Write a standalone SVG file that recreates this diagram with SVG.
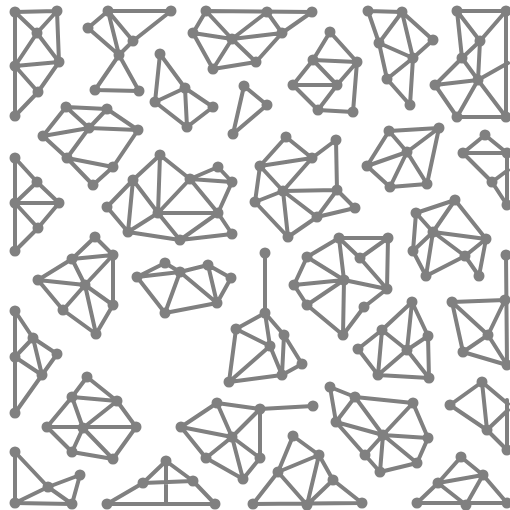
<svg xmlns="http://www.w3.org/2000/svg" width="510" height="510" viewBox="0 0 510 510">
<style>
.e{fill:none;stroke:#808080;stroke-width:4;stroke-linecap:round;stroke-linejoin:round}
circle{fill:#808080}
</style>
<rect width="510" height="510" fill="#fff"/>
<g id="connectors" class="e">
<path d="M15 12L57 11 M15 12L15 116 M15 12L37 33 M57 11L37 33 M57 11L59 62 M37 33L15 66 M37 33L59 62 M15 66L59 62 M15 66L38 92 M59 62L38 92 M38 92L15 116"/>
<path d="M108 11L171 11 M108 11L88 28 M108 11L133 41 M108 11L119 55 M88 28L119 55 M171 11L133 41 M133 41L119 55 M119 55L95 90 M119 55L139 91 M95 90L139 91"/>
<path d="M160 54L155 102 M160 54L185 88 M155 102L185 88 M155 102L187 127 M185 88L213 107 M185 88L187 127 M213 107L187 127"/>
<path d="M244 86L267 105L233 134Z"/>
<path d="M206 11L312 12 M206 11L193 33 M206 11L232 39 M267 12L232 39 M267 12L282 33 M312 12L282 33 M193 33L232 39 M232 39L282 33 M193 33L213 69 M232 39L213 69 M232 39L256 62 M213 69L256 62 M282 33L256 62"/>
<path d="M330 32L313 60 M330 32L357 62 M313 60L357 62 M313 60L293 85 M313 60L337 85 M293 85L337 85 M293 85L318 110 M318 110L337 85 M318 110L353 112 M357 62L353 112 M337 85L357 62"/>
<path d="M368 11L402 12 M368 11L379 43 M402 12L379 43 M402 12L433 40 M402 12L413 58 M379 43L413 58 M433 40L413 58 M379 43L387 79 M413 58L387 79 M413 58L410 105 M387 79L410 105"/>
<path d="M457 11L506 11 M457 11L480 41 M457 11L462 58 M480 41L506 11 M480 41L462 58 M480 41L478 80 M462 58L435 85 M462 58L478 80 M435 85L478 80 M435 85L457 117 M478 80L457 117 M478 80L506 117 M478 80L508 63 M457 117L506 117 M506 11L506 117"/>
<path d="M66 107L107 109 M66 107L43 136 M66 107L89 128 M107 109L89 128 M107 109L138 130 M43 136L89 128 M89 128L138 130 M89 128L67 158 M43 136L67 158 M67 158L113 167 M138 130L113 167 M67 158L93 185 M113 167L93 185"/>
<path d="M15 158L37 182 M15 158L15 251 M37 182L15 203 M37 182L59 203 M15 203L59 203 M15 203L38 228 M59 203L38 228 M38 228L15 251"/>
<path d="M160 155L133 180 M160 155L158 213 M160 155L190 179 M218 167L190 179 M218 167L232 182 M190 179L232 182 M190 179L158 213 M190 179L218 213 M133 180L107 207 M133 180L128 232 M133 180L158 213 M107 207L128 232 M158 213L218 213 M158 213L128 232 M158 213L180 240 M218 213L232 182 M218 213L180 240 M218 213L232 234 M128 232L180 240 M180 240L232 234"/>
<path d="M286 137L312 158 M286 137L260 166 M260 166L312 158 M312 158L336 140 M336 140L337 190 M260 166L255 202 M260 166L283 191 M312 158L283 191 M255 202L283 191 M255 202L288 237 M283 191L337 190 M283 191L288 237 M283 191L317 217 M288 237L317 217 M317 217L355 208 M317 217L337 190 M337 190L355 208"/>
<path d="M389 131L439 128 M389 131L407 152 M389 131L367 166 M367 166L407 152 M439 128L407 152 M439 128L427 184 M407 152L390 187 M407 152L427 184 M367 166L390 187 M390 187L427 184"/>
<path d="M463 153L485 135 M485 135L507 153 M463 153L507 153 M463 153L492 182 M492 182L508 170 M492 182L507 205 M507 153L507 205"/>
<path d="M416 213L455 200 M416 213L433 232 M416 213L413 251 M455 200L433 232 M455 200L486 239 M433 232L486 239 M433 232L413 251 M433 232L426 276 M433 232L465 256 M413 251L426 276 M426 276L465 256 M486 239L465 256 M465 256L479 276 M486 239L479 276"/>
<path d="M95 237L72 259 M95 237L113 255 M72 259L113 255 M72 259L38 280 M72 259L85 285 M113 255L85 285 M113 255L113 305 M38 280L85 285 M38 280L63 310 M85 285L63 310 M85 285L113 305 M85 285L96 334 M63 310L96 334 M113 305L96 334"/>
<path d="M137 277L165 263 M137 277L180 272 M137 277L165 313 M165 263L180 272 M180 272L208 265 M180 272L217 303 M208 265L231 278 M208 265L217 303 M231 278L217 303 M165 313L217 303 M165 313L180 272"/>
<path d="M265 253L265 313 M265 313L236 329 M265 313L284 335 M265 313L270 346 M236 329L270 346 M236 329L229 382 M284 335L282 375 M284 335L302 364 M270 346L282 375 M270 346L229 382 M229 382L282 375 M282 375L302 364"/>
<path d="M339 238L388 238 M339 238L307 257 M339 238L360 258 M339 238L344 280 M388 238L360 258 M388 238L387 289 M307 257L294 285 M307 257L344 280 M360 258L387 289 M294 285L344 280 M294 285L307 305 M344 280L387 289 M344 280L307 305 M344 280L343 335 M387 289L364 307 M307 305L343 335 M364 307L343 335"/>
<path d="M15 311L33 338 M15 311L15 413 M33 338L57 354 M33 338L42 375 M15 357L33 338 M15 357L42 375 M57 354L42 375 M42 375L15 413"/>
<path d="M87 377L72 397 M87 377L117 401 M72 397L117 401 M72 397L47 427 M72 397L83 428 M117 401L83 428 M117 401L136 427 M47 427L136 427 M47 427L72 452 M83 428L72 452 M83 428L113 459 M136 427L113 459 M72 452L113 459"/>
<path d="M15 452L48 487 M15 452L15 503 M48 487L80 475 M80 475L72 504 M48 487L72 504 M48 487L15 503 M15 503L72 504"/>
<path d="M107 504L215 504 M107 504L143 483 M143 483L166 461 M166 461L193 481 M143 483L193 481 M193 481L215 504 M166 461L166 504"/>
<path d="M217 403L260 409 M260 409L313 406 M217 403L181 427 M181 427L232 437 M217 403L232 437 M232 437L260 409 M260 409L260 458 M232 437L206 458 M232 437L243 479 M232 437L260 458 M181 427L206 458 M206 458L243 479 M243 479L260 458"/>
<path d="M293 436L319 455 M293 436L278 472 M319 455L278 472 M319 455L307 505 M319 455L333 480 M278 472L253 504 M278 472L307 505 M333 480L307 505 M333 480L362 503 M253 504L362 503"/>
<path d="M330 387L355 397 M330 387L336 422 M355 397L413 403 M355 397L336 422 M355 397L383 435 M413 403L383 435 M413 403L428 438 M336 422L383 435 M336 422L365 455 M383 435L428 438 M383 435L365 455 M383 435L380 472 M383 435L417 463 M428 438L417 463 M365 455L380 472 M380 472L417 463"/>
<path d="M482 382L450 405 M482 382L487 430 M450 405L487 430 M482 382L508 404 M487 430L508 410 M487 430L507 450 M507 400L507 452"/>
<path d="M461 457L483 475 M461 457L438 483 M438 483L483 475 M438 483L417 503 M438 483L466 505 M483 475L466 505 M483 475L507 503 M417 503L507 503"/>
<path d="M412 302L382 330 M412 302L428 336 M412 302L407 350 M382 330L358 349 M382 330L407 350 M382 330L378 375 M428 336L407 350 M428 336L429 378 M358 349L378 375 M407 350L378 375 M407 350L429 378 M378 375L429 378"/>
<path d="M506 255L507 365 M452 302L505 300 M452 302L488 335 M452 302L463 352 M505 300L488 335 M488 335L463 352 M488 335L507 365 M463 352L507 365"/>
</g>
<g id="nodes">
<g id="A"><circle cx="15" cy="12" r="5.5"/><circle cx="57" cy="11" r="5.5"/><circle cx="37" cy="33" r="5.5"/><circle cx="15" cy="66" r="5.5"/><circle cx="59" cy="62" r="5.5"/><circle cx="38" cy="92" r="5.5"/><circle cx="15" cy="116" r="5.5"/></g>
<g id="B"><circle cx="108" cy="11" r="5.5"/><circle cx="171" cy="11" r="5.5"/><circle cx="88" cy="28" r="5.5"/><circle cx="133" cy="41" r="5.5"/><circle cx="119" cy="55" r="5.5"/><circle cx="95" cy="90" r="5.5"/><circle cx="139" cy="91" r="5.5"/></g>
<g id="C"><circle cx="160" cy="54" r="5.5"/><circle cx="155" cy="102" r="5.5"/><circle cx="185" cy="88" r="5.5"/><circle cx="213" cy="107" r="5.5"/><circle cx="187" cy="127" r="5.5"/></g>
<g id="D"><circle cx="244" cy="86" r="5.5"/><circle cx="267" cy="105" r="5.5"/><circle cx="233" cy="134" r="5.5"/></g>
<g id="E"><circle cx="206" cy="11" r="5.5"/><circle cx="267" cy="12" r="5.5"/><circle cx="312" cy="12" r="5.5"/><circle cx="193" cy="33" r="5.5"/><circle cx="232" cy="39" r="5.5"/><circle cx="282" cy="33" r="5.5"/><circle cx="213" cy="69" r="5.5"/><circle cx="256" cy="62" r="5.5"/></g>
<g id="F"><circle cx="330" cy="32" r="5.5"/><circle cx="313" cy="60" r="5.5"/><circle cx="357" cy="62" r="5.5"/><circle cx="293" cy="85" r="5.5"/><circle cx="337" cy="85" r="5.5"/><circle cx="318" cy="110" r="5.5"/><circle cx="353" cy="112" r="5.5"/></g>
<g id="G"><circle cx="368" cy="11" r="5.5"/><circle cx="402" cy="12" r="5.5"/><circle cx="379" cy="43" r="5.5"/><circle cx="433" cy="40" r="5.5"/><circle cx="413" cy="58" r="5.5"/><circle cx="387" cy="79" r="5.5"/><circle cx="410" cy="105" r="5.5"/></g>
<g id="H"><circle cx="457" cy="11" r="5.5"/><circle cx="506" cy="11" r="5.5"/><circle cx="480" cy="41" r="5.5"/><circle cx="462" cy="58" r="5.5"/><circle cx="478" cy="80" r="5.5"/><circle cx="435" cy="85" r="5.5"/><circle cx="457" cy="117" r="5.5"/><circle cx="506" cy="117" r="5.5"/></g>
<g id="I"><circle cx="66" cy="107" r="5.5"/><circle cx="107" cy="109" r="5.5"/><circle cx="89" cy="128" r="5.5"/><circle cx="138" cy="130" r="5.5"/><circle cx="43" cy="136" r="5.5"/><circle cx="67" cy="158" r="5.5"/><circle cx="113" cy="167" r="5.5"/><circle cx="93" cy="185" r="5.5"/></g>
<g id="J"><circle cx="15" cy="158" r="5.5"/><circle cx="37" cy="182" r="5.5"/><circle cx="15" cy="203" r="5.5"/><circle cx="59" cy="203" r="5.5"/><circle cx="38" cy="228" r="5.5"/><circle cx="15" cy="251" r="5.5"/></g>
<g id="K"><circle cx="160" cy="155" r="5.5"/><circle cx="218" cy="167" r="5.5"/><circle cx="133" cy="180" r="5.5"/><circle cx="190" cy="179" r="5.5"/><circle cx="232" cy="182" r="5.5"/><circle cx="107" cy="207" r="5.5"/><circle cx="158" cy="213" r="5.5"/><circle cx="218" cy="213" r="5.5"/><circle cx="128" cy="232" r="5.5"/><circle cx="180" cy="240" r="5.5"/><circle cx="232" cy="234" r="5.5"/></g>
<g id="L"><circle cx="286" cy="137" r="5.5"/><circle cx="336" cy="140" r="5.5"/><circle cx="312" cy="158" r="5.5"/><circle cx="260" cy="166" r="5.5"/><circle cx="255" cy="202" r="5.5"/><circle cx="283" cy="191" r="5.5"/><circle cx="337" cy="190" r="5.5"/><circle cx="355" cy="208" r="5.5"/><circle cx="317" cy="217" r="5.5"/><circle cx="288" cy="237" r="5.5"/></g>
<g id="M"><circle cx="389" cy="131" r="5.5"/><circle cx="439" cy="128" r="5.5"/><circle cx="407" cy="152" r="5.5"/><circle cx="367" cy="166" r="5.5"/><circle cx="390" cy="187" r="5.5"/><circle cx="427" cy="184" r="5.5"/></g>
<g id="N"><circle cx="485" cy="135" r="5.5"/><circle cx="463" cy="153" r="5.5"/><circle cx="507" cy="153" r="5.5"/><circle cx="492" cy="182" r="5.5"/><circle cx="507" cy="205" r="5.5"/></g>
<g id="O"><circle cx="455" cy="200" r="5.5"/><circle cx="416" cy="213" r="5.5"/><circle cx="433" cy="232" r="5.5"/><circle cx="486" cy="239" r="5.5"/><circle cx="413" cy="251" r="5.5"/><circle cx="465" cy="256" r="5.5"/><circle cx="426" cy="276" r="5.5"/><circle cx="479" cy="276" r="5.5"/></g>
<g id="P"><circle cx="95" cy="237" r="5.5"/><circle cx="113" cy="255" r="5.5"/><circle cx="72" cy="259" r="5.5"/><circle cx="38" cy="280" r="5.5"/><circle cx="85" cy="285" r="5.5"/><circle cx="63" cy="310" r="5.5"/><circle cx="113" cy="305" r="5.5"/><circle cx="96" cy="334" r="5.5"/></g>
<g id="Q"><circle cx="137" cy="277" r="5.5"/><circle cx="165" cy="263" r="5.5"/><circle cx="180" cy="272" r="5.5"/><circle cx="208" cy="265" r="5.5"/><circle cx="231" cy="278" r="5.5"/><circle cx="165" cy="313" r="5.5"/><circle cx="217" cy="303" r="5.5"/></g>
<g id="R"><circle cx="265" cy="253" r="5.5"/><circle cx="265" cy="313" r="5.5"/><circle cx="236" cy="329" r="5.5"/><circle cx="284" cy="335" r="5.5"/><circle cx="270" cy="346" r="5.5"/><circle cx="302" cy="364" r="5.5"/><circle cx="282" cy="375" r="5.5"/><circle cx="229" cy="382" r="5.5"/></g>
<g id="S"><circle cx="339" cy="238" r="5.5"/><circle cx="388" cy="238" r="5.5"/><circle cx="307" cy="257" r="5.5"/><circle cx="360" cy="258" r="5.5"/><circle cx="294" cy="285" r="5.5"/><circle cx="344" cy="280" r="5.5"/><circle cx="387" cy="289" r="5.5"/><circle cx="307" cy="305" r="5.5"/><circle cx="364" cy="307" r="5.5"/><circle cx="343" cy="335" r="5.5"/></g>
<g id="T"><circle cx="15" cy="311" r="5.5"/><circle cx="33" cy="338" r="5.5"/><circle cx="57" cy="354" r="5.5"/><circle cx="15" cy="357" r="5.5"/><circle cx="42" cy="375" r="5.5"/><circle cx="15" cy="413" r="5.5"/></g>
<g id="U"><circle cx="87" cy="377" r="5.5"/><circle cx="72" cy="397" r="5.5"/><circle cx="117" cy="401" r="5.5"/><circle cx="47" cy="427" r="5.5"/><circle cx="83" cy="428" r="5.5"/><circle cx="136" cy="427" r="5.5"/><circle cx="72" cy="452" r="5.5"/><circle cx="113" cy="459" r="5.5"/></g>
<g id="V"><circle cx="15" cy="452" r="5.5"/><circle cx="80" cy="475" r="5.5"/><circle cx="48" cy="487" r="5.5"/><circle cx="15" cy="503" r="5.5"/><circle cx="72" cy="504" r="5.5"/></g>
<g id="W"><circle cx="107" cy="504" r="5.5"/><circle cx="143" cy="483" r="5.5"/><circle cx="166" cy="461" r="5.5"/><circle cx="193" cy="481" r="5.5"/><circle cx="215" cy="504" r="5.5"/></g>
<g id="X"><circle cx="217" cy="403" r="5.5"/><circle cx="260" cy="409" r="5.5"/><circle cx="313" cy="406" r="5.5"/><circle cx="181" cy="427" r="5.5"/><circle cx="232" cy="437" r="5.5"/><circle cx="206" cy="458" r="5.5"/><circle cx="260" cy="458" r="5.5"/><circle cx="243" cy="479" r="5.5"/></g>
<g id="Y"><circle cx="293" cy="436" r="5.5"/><circle cx="319" cy="455" r="5.5"/><circle cx="278" cy="472" r="5.5"/><circle cx="333" cy="480" r="5.5"/><circle cx="253" cy="504" r="5.5"/><circle cx="307" cy="505" r="5.5"/><circle cx="362" cy="503" r="5.5"/></g>
<g id="Z"><circle cx="330" cy="387" r="5.5"/><circle cx="355" cy="397" r="5.5"/><circle cx="413" cy="403" r="5.5"/><circle cx="336" cy="422" r="5.5"/><circle cx="383" cy="435" r="5.5"/><circle cx="428" cy="438" r="5.5"/><circle cx="365" cy="455" r="5.5"/><circle cx="380" cy="472" r="5.5"/><circle cx="417" cy="463" r="5.5"/></g>
<g id="AA"><circle cx="482" cy="382" r="5.5"/><circle cx="450" cy="405" r="5.5"/><circle cx="487" cy="430" r="5.5"/><circle cx="507" cy="450" r="5.5"/></g>
<g id="AB"><circle cx="461" cy="457" r="5.5"/><circle cx="483" cy="475" r="5.5"/><circle cx="438" cy="483" r="5.5"/><circle cx="417" cy="503" r="5.5"/><circle cx="466" cy="505" r="5.5"/><circle cx="507" cy="503" r="5.5"/></g>
<g id="AC"><circle cx="412" cy="302" r="5.5"/><circle cx="382" cy="330" r="5.5"/><circle cx="428" cy="336" r="5.5"/><circle cx="358" cy="349" r="5.5"/><circle cx="407" cy="350" r="5.5"/><circle cx="378" cy="375" r="5.5"/><circle cx="429" cy="378" r="5.5"/></g>
<g id="AD"><circle cx="506" cy="255" r="5.5"/><circle cx="452" cy="302" r="5.5"/><circle cx="505" cy="300" r="5.5"/><circle cx="488" cy="335" r="5.5"/><circle cx="463" cy="352" r="5.5"/><circle cx="507" cy="365" r="5.5"/></g>
</g>
</svg>
